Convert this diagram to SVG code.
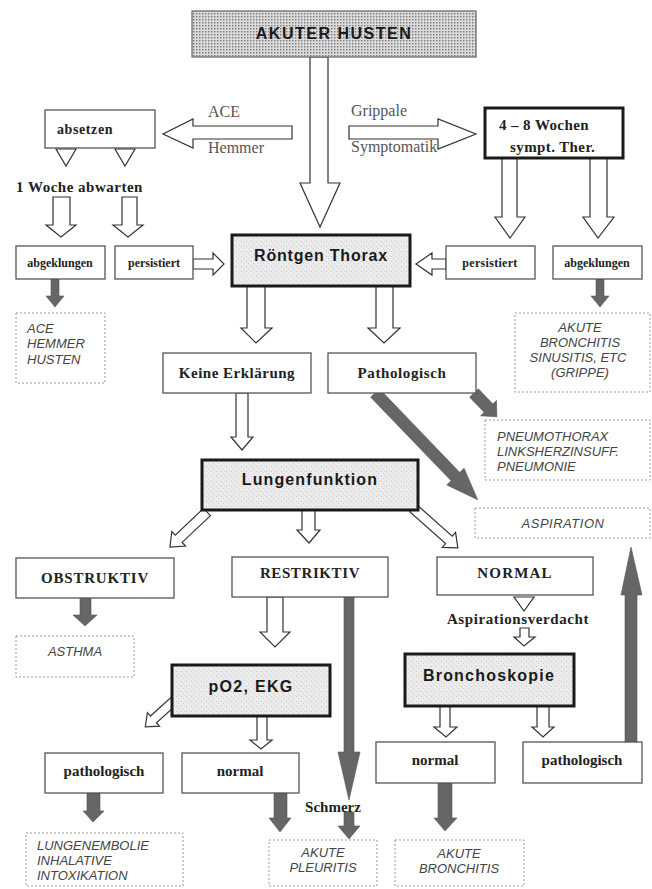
<svg xmlns="http://www.w3.org/2000/svg" width="652" height="889" viewBox="0 0 652 889">
<defs>
<pattern id="dots" width="3" height="3" patternUnits="userSpaceOnUse">
<rect width="3" height="3" fill="#dadada"/>
<rect x="1" y="1" width="1.4" height="1.4" fill="#777"/>
</pattern>
<pattern id="stip" width="5" height="5" patternUnits="userSpaceOnUse">
<rect width="5" height="5" fill="#ececec"/>
<rect x="1" y="1" width="1" height="1" fill="#c4c4c4"/>
<rect x="3" y="3" width="1" height="1" fill="#d0d0d0"/>
<rect x="4" y="0" width="1" height="1" fill="#d8d8d8"/>
</pattern>
<style>
.thin{fill:#fff;stroke:#555;stroke-width:1.3}
.thick{fill:url(#stip);stroke:#1a1a1a;stroke-width:3}
.thickw{fill:#fff;stroke:#1a1a1a;stroke-width:3}
.dash{fill:#fff;stroke:#999;stroke-width:1;stroke-dasharray:2,2}
.sb{font-family:"Liberation Sans",Arial,sans-serif;font-weight:bold;font-size:16px;fill:#1a1a1a;text-anchor:middle}
.rb{font-family:"Liberation Serif","Times New Roman",serif;font-weight:bold;font-size:15px;fill:#222;text-anchor:middle}
.rs{font-family:"Liberation Serif","Times New Roman",serif;font-weight:bold;font-size:12px;fill:#222;text-anchor:middle}
.rr{font-family:"Liberation Serif","Times New Roman",serif;font-size:16px;fill:#555}
.it{font-family:"Liberation Sans",Arial,sans-serif;font-style:italic;font-size:13px;fill:#444}
.ho{fill:#fff;stroke:#333;stroke-width:1.2;stroke-linejoin:miter}
.so{fill:#666;stroke:#555;stroke-width:0.6}
</style>
</defs>
<rect width="652" height="889" fill="#fff"/>

<g id="connectors">
<polygon class="ho" points="310,57 328,57 328,183 340,183 320,227 300,183 310,183"/>
<polygon class="ho" points="292,126 292,139 193,139 193,148 163,134 193,119 193,126"/>
<polygon class="ho" points="349,126 438,126 438,119 476,134 438,149 438,139 349,139"/>
<polygon class="ho" points="56,149 76,149 66,166"/>
<polygon class="ho" points="115,149 135,149 125,166"/>
<polygon class="ho" points="53,197 70,197 70,225 76,225 61,237 46,225 53,225"/>
<polygon class="ho" points="122,197 137,197 137,225 143,225 128,237 113,225 122,225"/>
<polygon class="ho" points="502,158 517,158 517,217 525,217 510,238 495,217 502,217"/>
<polygon class="ho" points="590,158 607,158 607,217 614,217 598,238 583,217 590,217"/>
<polygon class="ho" points="193,259 213,259 213,253 224,264 213,275 213,269 193,269"/>
<polygon class="ho" points="446,259 432,259 432,253 416,264 432,275 432,269 446,269"/>
<polygon class="ho" points="247,286 265,286 265,328 272,328 256,343 241,328 247,328"/>
<polygon class="ho" points="376,286 393,286 393,328 400,328 384,343 368,328 376,328"/>
<polygon class="ho" points="236,393 248,393 248,437 253,437 242,450 231,437 236,437"/>
<polygon class="ho" points="302,510 315,510 315,530 320,530 309,543 297,530 302,530"/>
<polygon class="ho" transform="translate(207,512) rotate(136.6)" points="0,-5 39,-5 39,-10 51,0 39,10 39,5 0,5"/>
<polygon class="ho" transform="translate(413,508) rotate(41.6)" points="0,-5 48,-5 48,-10 60,0 48,10 48,5 0,5"/>
<polygon class="ho" points="267,597 283,597 283,632 290,632 275,647 260,632 267,632"/>
<polygon class="ho" points="514,597 534,597 524,611"/>
<polygon class="ho" points="520,628 529,628 529,637 535,637 524,646 514,637 520,637"/>
<polygon class="ho" transform="translate(175,700) rotate(138)" points="0,-4.5 29,-4.5 29,-9 40,0 29,9 29,4.5 0,4.5"/>
<polygon class="ho" points="257,716 267,716 267,740 272,740 261,749 250,740 257,740"/>
<polygon class="ho" points="440,706 450,706 450,727 457,727 446,737 434,727 440,727"/>
<polygon class="ho" points="537,706 549,706 549,727 554,727 543,737 532,727 537,727"/>
<polygon class="so" points="51,279 59,279 59,296 64,296 55,307 46,296 51,296"/>
<polygon class="so" points="596,279 604,279 604,296 609,296 600,307 591,296 596,296"/>
<polygon class="so" transform="translate(375,393) rotate(46.1)" points="0,-6 116,-6 116,-12 148,0 116,12 116,6 0,6"/>
<polygon class="so" transform="translate(474,393) rotate(46.2)" points="0,-6 21,-6 21,-11 33,0 21,11 21,6 0,6"/>
<polygon class="so" points="80,598 91,598 91,615 97,615 85,626 73,615 80,615"/>
<polygon class="so" points="344,597 354,597 354,752 360,752 349,800 338,752 344,752"/>
<polygon class="so" points="344,812 354,812 354,826 360,826 349,839 338,826 344,826"/>
<polygon class="so" points="87,793 100,793 100,811 104,811 93,822 83,811 87,811"/>
<polygon class="so" points="274,793 287,793 287,818 291,818 280,832 269,818 274,818"/>
<polygon class="so" points="438,783 452,783 452,818 457,818 445,831 434,818 438,818"/>
<polygon class="so" points="625,742 637,742 637,595 642,595 631,547 621,595 625,595"/>
</g>

<g id="n-akuter"><rect x="192" y="11" width="284" height="46" fill="url(#dots)" stroke="#666" stroke-width="1.2"/><text class="sb" x="334" y="39" letter-spacing="1.5">AKUTER HUSTEN</text></g>
<g id="e-ace"><text class="rr" x="208" y="117">ACE</text><text class="rr" x="208" y="153">Hemmer</text></g>
<g id="e-grippale"><text class="rr" x="351" y="116">Grippale</text><text class="rr" x="351" y="152">Symptomatik</text></g>
<g id="n-absetzen"><rect class="thin" x="45" y="110" width="110" height="38"/><text class="rs" x="57" y="134" style="font-size:14px;text-anchor:start" letter-spacing="0.6">absetzen</text></g>
<g id="n-woche"><text class="rb" x="16" y="192" style="text-anchor:start" letter-spacing="0.5">1 Woche abwarten</text></g>
<g id="n-wochen48"><rect class="thickw" x="485" y="108" width="138" height="50"/><text class="rb" x="499" y="130" style="text-anchor:start" letter-spacing="0.4">4 – 8 Wochen</text><text class="rb" x="510" y="152" style="text-anchor:start" letter-spacing="0.4">sympt. Ther.</text></g>
<g id="n-abgek-l"><rect class="thin" x="16" y="246" width="89" height="33"/><text class="rs" x="60" y="267">abgeklungen</text></g>
<g id="n-pers-l"><rect class="thin" x="115" y="246" width="78" height="33"/><text class="rs" x="154" y="267">persistiert</text></g>
<g id="n-roentgen"><rect class="thick" x="232" y="235" width="178" height="51"/><text class="sb" x="321" y="261" letter-spacing="0.8">Röntgen Thorax</text></g>
<g id="n-pers-r"><rect class="thin" x="446" y="246" width="89" height="33"/><text class="rs" x="490" y="267" letter-spacing="0.3">persistiert</text></g>
<g id="n-abgek-r"><rect class="thin" x="553" y="246" width="89" height="33"/><text class="rs" x="597" y="267">abgeklungen</text></g>
<g id="n-acehusten"><rect class="dash" x="16" y="313" width="89" height="70"/><text class="it" x="27" y="333">ACE</text><text class="it" x="27" y="348">HEMMER</text><text class="it" x="27" y="364">HUSTEN</text></g>
<g id="n-akbron1"><rect class="dash" x="515" y="313" width="135" height="79"/><text class="it" x="580" y="332" text-anchor="middle">AKUTE</text><text class="it" x="580" y="347" text-anchor="middle">BRONCHITIS</text><text class="it" x="578" y="362" text-anchor="middle">SINUSITIS, ETC</text><text class="it" x="580" y="377" text-anchor="middle">(GRIPPE)</text></g>
<g id="n-keine"><rect class="thin" x="163" y="353" width="148" height="40"/><text class="rb" x="237" y="378" letter-spacing="0.5">Keine Erklärung</text></g>
<g id="n-patho"><rect class="thin" x="328" y="353" width="148" height="40"/><text class="rb" x="402" y="378" letter-spacing="0.6">Pathologisch</text></g>
<g id="n-pneumo"><rect class="dash" x="485" y="420" width="165" height="60"/><text class="it" x="497" y="441">PNEUMOTHORAX</text><text class="it" x="497" y="456">LINKSHERZINSUFF.</text><text class="it" x="497" y="471">PNEUMONIE</text></g>
<g id="n-lungen"><rect class="thick" x="202" y="460" width="216" height="50"/><text class="sb" x="310" y="485" letter-spacing="1.1">Lungenfunktion</text></g>
<g id="n-aspiration"><rect class="dash" x="475" y="508" width="175" height="30"/><text class="it" x="563" y="528" text-anchor="middle" letter-spacing="0.5">ASPIRATION</text></g>
<g id="n-obstr"><rect class="thin" x="16" y="558" width="158" height="40"/><text class="rb" x="95" y="583" letter-spacing="0.8">OBSTRUKTIV</text></g>
<g id="n-restr"><rect class="thin" x="232" y="557" width="156" height="40"/><text class="rb" x="310" y="578" letter-spacing="0.6">RESTRIKTIV</text></g>
<g id="n-normal"><rect class="thin" x="437" y="557" width="156" height="38"/><text class="rb" x="515" y="578" letter-spacing="1.2">NORMAL</text></g>
<g id="e-aspverd"><text class="rb" x="518" y="624" letter-spacing="0.6">Aspirationsverdacht</text></g>
<g id="n-asthma"><rect class="dash" x="16" y="636" width="118" height="41"/><text class="it" x="75" y="656" text-anchor="middle">ASTHMA</text></g>
<g id="n-po2"><rect class="thick" x="172" y="665" width="158" height="51"/><text class="sb" x="251" y="692" letter-spacing="1.3">pO2, EKG</text></g>
<g id="n-broncho"><rect class="thick" x="405" y="654" width="169" height="52"/><text class="sb" x="489" y="681" letter-spacing="1.2">Bronchoskopie</text></g>
<g id="n-patho-l"><rect class="thin" x="45" y="753" width="118" height="40"/><text class="rb" x="104" y="776">pathologisch</text></g>
<g id="n-normal-l"><rect class="thin" x="182" y="753" width="117" height="40"/><text class="rb" x="240" y="776">normal</text></g>
<g id="n-normal-r"><rect class="thin" x="376" y="742" width="119" height="41"/><text class="rb" x="435" y="765">normal</text></g>
<g id="n-patho-r"><rect class="thin" x="523" y="742" width="119" height="41"/><text class="rb" x="582" y="765">pathologisch</text></g>
<g id="e-schmerz"><text class="rb" x="333" y="812">Schmerz</text></g>
<g id="n-lungenemb"><rect class="dash" x="26" y="833" width="157" height="53"/><text class="it" x="37" y="850">LUNGENEMBOLIE</text><text class="it" x="37" y="865">INHALATIVE</text><text class="it" x="37" y="880">INTOXIKATION</text></g>
<g id="n-pleuritis"><rect class="dash" x="269" y="840" width="108" height="46"/><text class="it" x="323" y="857" text-anchor="middle">AKUTE</text><text class="it" x="323" y="872" text-anchor="middle">PLEURITIS</text></g>
<g id="n-akbron2"><rect class="dash" x="395" y="840" width="129" height="46"/><text class="it" x="459" y="858" text-anchor="middle">AKUTE</text><text class="it" x="459" y="873" text-anchor="middle">BRONCHITIS</text></g>
</svg>
